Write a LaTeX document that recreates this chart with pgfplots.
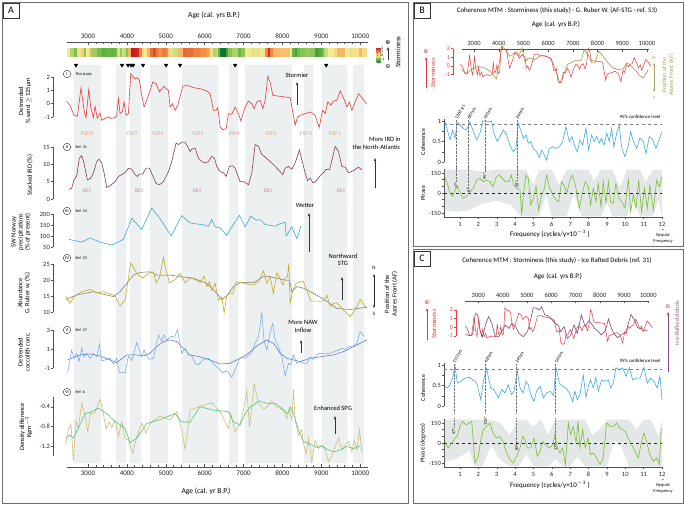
\documentclass[border=0pt]{standalone}
\usepackage{fontspec}
\setmainfont{Carlito}
\newfontfamily\dejavu{DejaVu Sans}
\usepackage{pgfplots}
\usepackage{pgfplotstable}
\pgfplotsset{compat=1.18}
\usetikzlibrary{arrows.meta}

\definecolor{acol}{RGB}{80,80,80}
\definecolor{stormred}{RGB}{232,60,60}
\definecolor{irdcol}{RGB}{140,55,95}
\definecolor{irdC}{RGB}{130,70,130}
\definecolor{preccol}{RGB}{60,170,210}
\definecolor{rubcol}{RGB}{200,170,30}
\definecolor{rubB}{RGB}{170,150,70}
\definecolor{cocl}{RGB}{110,165,235}
\definecolor{cocd}{RGB}{85,105,205}
\definecolor{dent}{RGB}{205,190,120}
\definecolor{deng}{RGB}{80,200,120}
\definecolor{cohcol}{RGB}{60,170,225}
\definecolor{phcol}{RGB}{120,190,50}
\definecolor{bandcol}{RGB}{236,240,240}
\definecolor{phband}{RGB}{228,231,231}
\definecolor{fspcol}{RGB}{240,150,110}
\definecolor{becol}{RGB}{195,145,175}
\definecolor{afcol}{RGB}{175,160,90}
\definecolor{framecol}{RGB}{110,110,110}

\pgfplotstableread{
age v
2451 0.18
2537 -0.13
2640 -0.88
2726 -0.95
2820 1.20
2897 -0.50
2949 -1.05
3018 1.05
3069 -0.25
3138 -1.05
3180 -0.20
3240 -1.10
3309 -0.70
3352 -1.25
3438 -1.10
3524 -1.00
3592 -1.10
3695 -1.05
3738 -0.90
3781 0.38
3824 -0.75
3884 -0.60
3927 0.13
3978 -0.88
4038 -0.75
4098 2.25
4150 2.05
4210 1.85
4270 1.95
4321 1.75
4381 0.62
4441 -0.25
4510 0.25
4596 1.00
4664 1.62
4750 1.50
4836 0.88
4896 1.12
4956 1.30
5007 1.12
5067 1.00
5110 -0.25
5170 0.00
5239 -0.50
5307 -0.12
5436 1.30
5539 1.38
5711 1.20
5882 1.12
6054 0.95
6139 0.75
6225 -0.50
6294 -0.50
6337 -0.30
6397 -1.75
6465 -1.95
6551 -1.88
6611 -0.75
6697 -0.80
6783 -0.25
6869 -0.75
6929 -1.30
7040 -0.25
7126 0.20
7212 0.00
7272 -0.38
7340 0.12
7426 0.25
7495 -0.38
7555 0.25
7623 2.05
7683 1.62
7752 0.62
7941 0.55
8198 0.45
8258 -0.50
8327 -1.62
8387 -1.00
8455 -0.88
8584 -0.75
8713 -0.62
8841 -0.88
8944 -1.80
9030 -0.50
9099 -0.75
9167 0.13
9244 -0.12
9313 0.20
9399 0.25
9485 0.95
9596 0.25
9656 -0.25
9725 0.13
9785 -0.50
9956 0.75
10042 0.45
10171 -0.05
}\storm

\pgfplotstableread{
age v
2511 2.8
2580 3.1
2640 5.5
2709 6.7
2777 11.8
2837 12.5
2897 10.4
2983 5.5
3069 6.0
3138 7.5
3223 10.8
3283 11.5
3352 10.4
3412 7.6
3481 3.3
3566 3.8
3695 5.0
3781 6.5
3952 7.6
4038 8.9
4124 8.6
4210 7.0
4270 6.5
4321 7.2
4407 7.2
4493 8.9
4578 8.9
4664 6.7
4750 4.5
4836 4.1
4939 5.0
5067 7.9
5153 10.8
5265 16.2
5325 15.7
5410 16.4
5496 16.4
5556 15.2
5625 13.7
5668 14.4
5754 14.7
5839 11.8
5925 10.8
6011 10.4
6097 10.8
6182 12.3
6251 11.8
6311 9.4
6397 7.9
6483 7.6
6551 6.5
6637 9.4
6714 9.6
6783 8.9
6843 7.0
6911 5.0
6997 5.0
7083 4.5
7126 4.1
7212 7.5
7297 15.7
7383 15.2
7469 12.8
7555 12.1
7726 10.4
7898 8.4
8009 7.0
8069 8.9
8155 9.4
8241 8.6
8327 10.4
8438 14.2
8498 11.3
8584 7.5
8644 5.3
8713 6.0
8781 4.7
8841 4.9
8970 6.7
9056 7.6
9124 8.6
9210 8.4
9296 12.3
9356 15.2
9442 13.7
9528 9.4
9613 9.2
9699 7.6
9828 8.2
9956 9.2
10042 8.4
}\ird

\pgfplotstableread{
age v
2511 84.5
2837 72.5
3052 90.5
3309 72.5
3609 59
3909 84.5
4124 180.5
4381 129.5
4638 227
4896 167
5136 99.5
5410 192.5
5625 159.5
5968 150.5
6097 144.5
6182 174.5
6268 141.5
6397 137
6568 102.5
6654 129.5
6894 194
7040 141.5
7186 189.5
7340 171.5
7426 174.5
7555 152
7812 144.5
7941 156.5
8069 162.5
8095 99.5
8241 141.5
8370 87.5
8472 144.5
}\prec

\pgfplotstableread{
age v
2426 14.9
2537 12.8
2640 14.9
2837 16.4
3052 17.1
3223 16.1
3395 16.4
3566 15.7
3695 15.1
3824 12.0
3952 13.8
4098 25.4
4253 22.1
4407 20.6
4578 22.3
4681 22.6
4750 19.2
4836 20.6
4939 27.1
5007 23.1
5093 19.2
5239 20.2
5368 22.1
5496 19.2
5625 20.6
5754 20.2
5882 19.2
5985 21.3
6054 18.0
6122 19.5
6182 16.9
6268 19.0
6354 13.8
6440 14.7
6500 9.9
6568 15.1
6654 16.1
6723 15.7
6809 19.5
6954 19.2
7126 18.7
7255 18.5
7383 19.5
7512 22.9
7598 19.0
7683 21.1
7769 15.9
7855 22.3
7941 20.6
8009 18.5
8069 20.6
8129 21.1
8164 25.2
8198 12.8
8267 16.9
8352 19.0
8455 19.5
8541 19.5
8627 16.9
8730 13.5
8841 13.5
9056 13.5
9141 15.4
9227 11.8
9313 12.8
9399 13.0
9485 11.8
9570 10.7
9742 8.7
9870 10.7
10000 14.0
10102 12.3
10171 11.2
}\rub

\pgfplotstableread{
age v
2426 14.0
2709 15.4
3138 16.4
3652 14.9
3824 16.4
3995 19.0
4167 21.6
4338 22.4
4596 22.6
4767 21.6
5110 21.6
5368 21.1
5711 20.6
6054 19.0
6311 15.9
6440 14.0
6568 15.1
6740 18.0
6911 19.2
7255 19.2
7512 21.1
7683 21.1
7855 20.6
8069 20.0
8181 20.0
8241 16.4
8370 18.0
8541 17.5
8798 15.9
9099 13.8
9399 11.2
9742 10.9
10171 11.6
}\rubs

\pgfplotstableread{
age v
2477 -1.45
2580 0.90
2640 0.04
2709 0.57
2769 -0.30
2837 1.09
2897 0.20
2966 0.57
3052 0.04
3138 0.57
3223 0.20
3292 1.54
3352 -0.20
3438 -0.13
3566 0.04
3652 -0.55
3738 0.04
3807 -1.45
3952 -1.45
4038 0.29
4124 -0.20
4253 1.68
4381 0.20
4441 0.90
4553 -0.06
4681 0.04
4810 2.48
4896 1.78
4939 2.48
5025 1.96
5127 2.30
5239 2.37
5299 3.00
5410 0.57
5496 1.09
5582 0.39
5668 0.29
5754 -0.48
5839 -0.65
5968 -0.06
6097 0.04
6225 -0.55
6354 -1.00
6465 -1.45
6568 -1.24
6697 -1.94
6809 -0.90
6911 0.15
7040 0.04
7126 0.39
7212 0.57
7297 1.61
7383 2.30
7469 4.81
7529 1.78
7598 0.90
7683 2.72
7752 3.70
7812 1.96
7898 1.26
7984 0.20
8069 -1.80
8155 -0.48
8215 -0.65
8284 0.39
8370 -0.48
8455 -0.30
8541 -0.48
8627 -0.48
8713 0.20
8798 -0.06
8884 0.39
8970 0.57
9099 0.50
9227 0.57
9399 0.84
9528 1.09
9613 0.98
9699 1.26
9828 1.33
9913 1.61
9999 2.83
10102 2.30
}\coc

\pgfplotstableread{
age v
2477 -0.13
2794 0.39
3052 0.50
3309 0.29
3566 -0.13
3738 -0.41
3995 0.39
4253 0.39
4424 0.29
4596 0.57
4767 1.26
4939 1.78
5110 1.96
5282 1.78
5453 1.09
5625 0.39
5882 0.20
6139 -0.13
6397 -0.55
6654 -0.48
6911 0.04
7126 0.57
7340 1.33
7598 1.96
7769 1.61
7941 0.57
8112 0.04
8284 -0.13
8455 -0.30
8713 0.04
8970 0.20
9313 0.39
9570 0.74
9828 1.26
10171 1.96
}\cocs

\pgfplotstableread{
age v
2426 -1.16
2494 -0.87
2563 -0.75
2623 -1.50
2692 -0.68
2752 -0.84
2837 -0.33
2923 -0.57
2992 -0.91
3069 -0.52
3155 -0.54
3223 -0.43
3309 -0.25
3395 -0.54
3464 -0.86
3549 -0.71
3609 -0.82
3695 -0.67
3781 -1.01
3867 -0.71
3952 -1.04
4038 -1.08
4150 -1.35
4253 -1.01
4381 -0.73
4493 -0.94
4596 -0.74
4853 -0.59
5110 -0.67
5282 -0.50
5410 -0.87
5496 -1.27
5625 -0.47
5882 -0.39
6182 -0.32
6397 -0.50
6611 -0.84
6671 -0.54
6783 -0.91
6911 -0.74
6997 -0.47
7083 -0.07
7152 -0.81
7272 0.06
7383 -0.33
7512 -0.45
7598 -0.41
7726 -0.28
7855 -0.40
8026 -0.47
8112 -0.64
8181 -0.45
8241 -0.67
8284 -0.05
8327 -0.67
8412 -0.98
8498 -0.87
8541 -1.16
8610 -1.35
8670 -1.04
8755 -1.52
8841 -1.08
8927 -1.25
9013 -1.18
9099 -1.28
9184 -1.52
9270 -1.40
9356 -1.21
9442 -1.04
9528 -1.28
9613 -1.18
9699 -1.11
9785 -1.32
9845 -1.09
9913 -1.28
9982 -0.87
10042 -1.32
}\den

\pgfplotstableread{
age v
2426 -1.04
2537 -0.98
2623 -1.04
2794 -0.77
2923 -0.54
3095 -0.50
3266 -0.43
3481 -0.54
3652 -0.67
3824 -0.77
3952 -0.84
4081 -1.13
4253 -1.04
4510 -0.74
4853 -0.66
5239 -0.54
5410 -0.71
5625 -0.71
5882 -0.40
6225 -0.47
6611 -0.50
6740 -0.71
6911 -0.77
7040 -0.54
7169 -0.40
7255 -0.37
7383 -0.28
7598 -0.33
7812 -0.33
7984 -0.43
8129 -0.54
8198 -0.40
8284 -0.54
8412 -0.87
8541 -1.11
8713 -1.16
8884 -1.23
9013 -1.20
9184 -1.28
9313 -1.32
9485 -1.28
9656 -1.21
9828 -1.25
9999 -1.20
}\dens

\pgfplotstableread{
age v
2487 -0.42
2690 -0.88
2892 -0.42
3162 -0.04
3432 -0.23
3702 -0.73
3905 -1.50
4040 0.73
4134 2.35
4310 1.69
4445 1.12
4647 1.50
4809 1.12
4944 2.08
5052 0.54
5255 0.92
5457 0.73
5660 1.12
5862 1.19
6065 0.92
6200 0.35
6335 -0.81
6470 -1.96
6605 -1.19
6780 0.15
6942 0.42
7145 0.65
7347 0.65
7455 1.88
7617 1.31
7752 0.35
7887 0.35
8049 1.69
8224 1.12
8427 0.35
8630 -0.23
8832 -0.42
9035 -0.35
9170 0.35
9305 0.15
9507 -0.42
9710 -1.12
9845 -1.38
9980 -0.81
10047 -0.42
}\rubBt

\pgfplotstableread{
age v
2468 -0.81
2632 -0.96
2768 -0.81
2877 1.62
2973 1.42
3082 -0.50
3177 -1.08
3314 0.46
3423 1.23
3559 0.46
3696 -1.08
3832 -1.08
3968 -0.50
4105 0.27
4269 -0.12
4378 0.46
4541 0.08
4678 -0.69
4855 -1.08
5032 -0.42
5169 1.04
5264 2.27
5401 2.19
5510 2.00
5605 2.38
5742 1.42
5878 1.35
6014 0.96
6151 0.46
6287 0.27
6396 -0.50
6533 0.08
6669 -1.27
6806 -0.88
6942 0.27
7078 -0.69
7242 1.42
7406 0.08
7542 0.73
7651 0.46
7788 -0.12
7924 -0.42
8060 -0.88
8224 -0.42
8360 0.96
8470 -0.04
8606 -0.81
8742 -1.19
8879 -0.88
9083 -0.50
9288 1.50
9424 0.85
9560 -0.04
9697 -0.12
9833 -0.42
9970 -0.31
}\irdCt

\pgfplotstableread{
f c
0.18 0.98
0.31 0.78
0.46 0.54
0.60 0.78
0.73 0.58
0.85 0.97
1.00 0.90
1.18 0.82
1.36 0.78
1.54 0.98
1.73 0.74
1.91 0.54
2.09 0.70
2.23 1.00
2.42 1.00
2.60 0.98
2.72 1.00
2.85 0.70
3.03 0.50
3.18 0.62
3.36 0.78
3.54 0.66
3.72 0.41
3.90 0.25
4.05 0.33
4.18 0.94
4.30 0.78
4.45 0.58
4.59 0.66
4.72 0.46
4.85 0.50
4.99 0.33
5.17 0.25
5.32 0.11
5.45 0.29
5.57 0.19
5.72 0.05
5.86 0.33
6.05 0.37
6.23 0.33
6.41 0.37
6.59 0.50
6.77 0.86
6.95 0.50
7.10 0.62
7.26 0.37
7.39 0.25
7.53 0.54
7.68 0.41
7.86 0.82
8.00 0.29
8.17 0.66
8.30 0.50
8.44 0.62
8.59 0.46
8.71 0.58
8.84 0.41
8.99 0.70
9.13 0.50
9.26 0.82
9.38 0.37
9.53 0.70
9.67 0.90
9.80 0.37
9.98 0.13
10.17 0.41
10.29 0.74
10.44 0.50
10.62 0.33
10.80 0.58
10.98 0.50
11.13 0.21
11.31 0.62
11.49 0.54
11.67 0.33
11.80 0.50
12.00 0.74
}\cohB

\pgfplotstableread{
f p
0.18 122
0.31 72
0.46 -2
0.60 -27
0.73 22
0.85 47
1.00 10
1.15 -40
1.33 -27
1.54 10
1.73 35
1.91 97
2.09 110
2.27 85
2.45 97
2.63 85
2.80 47
2.98 122
3.12 135
3.30 110
3.48 85
3.67 85
3.80 135
3.92 60
4.10 35
4.27 22
4.36 -165
4.45 -15
4.59 135
4.72 110
4.85 -90
4.99 -40
5.14 47
5.28 -127
5.45 -15
5.57 22
5.72 135
5.86 47
6.05 -15
6.23 -52
6.37 -65
6.54 85
6.66 60
6.81 -2
6.99 97
7.14 135
7.32 35
7.50 -115
7.68 10
7.82 85
7.99 47
8.11 -90
8.26 35
8.40 -65
8.53 72
8.68 -102
8.80 85
8.95 -77
9.08 85
9.20 -65
9.35 -77
9.49 72
9.62 -27
9.80 -65
9.98 -115
10.17 110
10.29 -140
10.44 -15
10.58 -115
10.73 97
10.89 -140
11.05 35
11.20 -115
11.34 60
11.53 -127
11.71 97
11.85 47
12.00 122
}\phB

\pgfplotstableread{
f c
0.18 0.48
0.31 0.44
0.46 0.52
0.60 0.68
0.73 1.00
0.85 0.56
1.04 0.60
1.27 0.68
1.51 0.70
1.69 0.64
1.82 0.60
1.94 0.52
2.13 0.15
2.27 0.60
2.45 0.91
2.67 0.44
2.85 0.40
3.09 0.20
3.27 0.40
3.45 0.32
3.63 0.52
3.81 0.28
3.94 0.36
4.12 0.86
4.27 0.44
4.45 0.32
4.59 0.60
4.72 0.52
4.85 0.28
5.03 0.11
5.17 0.36
5.36 0.48
5.54 0.20
5.72 0.32
5.90 0.36
6.09 0.26
6.23 0.93
6.41 0.56
6.59 0.48
6.77 0.44
6.95 0.32
7.14 0.11
7.26 0.36
7.39 0.15
7.53 0.28
7.71 0.76
7.86 0.21
7.99 0.48
8.11 0.64
8.26 0.44
8.40 0.70
8.53 0.36
8.71 0.64
8.89 0.60
9.08 0.64
9.20 0.44
9.35 0.56
9.49 0.93
9.67 0.89
9.86 0.93
10.04 0.72
10.22 0.93
10.40 0.64
10.62 0.68
10.80 0.68
11.02 0.94
11.20 0.56
11.38 0.68
11.56 0.60
11.74 0.44
11.89 0.72
12.00 0.15
}\cohC

\pgfplotstableread{
f p
0.18 12
0.36 -37
0.55 0
0.73 37
0.85 50
1.00 125
1.15 162
1.33 137
1.51 150
1.64 162
1.82 -150
2.00 -100
2.13 25
2.27 100
2.45 125
2.63 150
2.80 75
2.98 37
3.16 50
3.34 12
3.54 -75
3.72 -125
3.90 -150
4.12 -87
4.27 -37
4.41 50
4.54 25
4.67 -37
4.85 -37
5.03 37
5.21 -100
5.36 -62
5.50 12
5.68 -17
5.87 -37
6.05 -12
6.17 62
6.30 -37
6.44 -75
6.59 -37
6.74 -162
6.90 150
7.03 62
7.17 125
7.32 0
7.43 162
7.53 -37
7.68 100
7.82 -37
7.97 37
8.11 -87
8.26 -75
8.44 -112
8.62 -162
8.80 -112
8.98 150
9.17 125
9.35 125
9.53 150
9.71 112
9.86 100
10.00 87
10.16 37
10.35 -12
10.53 -62
10.71 -112
10.89 12
11.02 75
11.16 12
11.34 -87
11.53 -137
11.71 -112
11.85 -162
11.96 112
}\phC

\tikzset{arr/.style={-{Stealth[length=3.5pt,width=2.6pt]}, line width=0.6pt, black!80},
  pklab/.style={rotate=60, anchor=west, font=\fontsize{4.6}{5}\selectfont, inner sep=0.4pt},
  phlab/.style={rotate=90, font=\fontsize{4.3}{5}\selectfont, inner sep=0.3pt}}

\pgfplotsset{
  every axis/.append style={/pgf/number format/assume math mode=true, /pgf/number format/1000 sep={}, scaled ticks=false},
  base/.style={scale only axis, clip=false, anchor=south west,
    axis line style={acol, line width=0.4pt},
    tick style={acol, line width=0.4pt},
    tick align=outside, major tick length=2pt, minor tick length=1.2pt,
    tick label style={font=\fontsize{6.5}{7}\selectfont, text=black!85},
    yticklabel style={inner xsep=1pt}},
  Aplot/.style={base, width=315pt, xmin=2099.3, xmax=10200,
    axis x line=none, axis y line*=left, y axis line style={draw=none}},
  ageax/.style={base, height=10pt, ymin=0, ymax=1, axis y line=none,
    tick align=inside, xtick={3000,4000,...,10000}, scaled x ticks=false,
    xticklabel={\pgfmathprintnumber[fixed,precision=0,1000 sep={}]{\tick}}},
  cohax/.style={base, width=218pt, height=43.05pt, xmin=0.13, xmax=12, ymin=0, ymax=1.05,
    axis x line=none, axis y line*=left,
    ytick={0,0.25,0.5,0.75,1}, yticklabels={0,,0.5,,1}},
  phax/.style={base, width=218pt, height=48pt, xmin=0.13, xmax=12, ymin=-180, ymax=180,
    axis lines*=left, xtick={1,...,12}, ytick={-150,-100,...,150}, yticklabels={-150,,,0,,,150}},
}

\newcommand{\circnum}[2]{\node[circle, draw=black!80, line width=0.4pt, inner sep=0pt, minimum size=7.5pt, font=\fontsize{4.5}{5}\selectfont] at #1 {#2};}

\begin{document}
\begin{tikzpicture}[x=1pt,y=1pt]
\useasboundingbox (0,0) rectangle (685,506);
\fill[white] (0,0) rectangle (685,506);
\draw[framecol, line width=1pt] (2,3) rectangle (408,503);
\draw[framecol, line width=1pt] (413,259) rectangle (683,503);
\draw[framecol, line width=1pt] (413,3) rectangle (683,256);
\draw[black!80, line width=0.6pt] (3,488) rectangle (19,503);
\node[font=\fontsize{10}{10}\selectfont] at (11,495.5) {A};
\draw[black!80, line width=0.6pt] (414,488) rectangle (430,503);
\node[font=\fontsize{10}{10}\selectfont] at (422,495.5) {B};
\draw[black!80, line width=0.6pt] (414,240) rectangle (430,255);
\node[font=\fontsize{10}{10}\selectfont] at (422,247.5) {C};

%%%%%%%%%%%%%%%% PANEL A %%%%%%%%%%%%%%%%
\begin{axis}[scale only axis, anchor=south west, at={(53pt,43pt)}, width=315pt, height=398pt,
  xmin=2099.3, xmax=10200, ymin=0, ymax=1, axis lines=none]
\addplot[const plot, fill=bandcol, draw=none] coordinates {(2640,1)(3330,0)(3720,1)(3980,0)(4080,1)(4360,0)(4600,1)(5060,0)(5420,1)(6350,0)(6630,1)(6860,0)(7040,1)(8250,0)(8560,1)(8790,0)(9020,1)(9660,0)(9820,1)(10100,0)} \closedcycle;
\end{axis}

\begin{axis}[ageax, at={(67pt,454pt)}, width=301pt, xmin=2460, xmax=10200,
  axis x line*=top, minor x tick num=4, major tick length=3pt, minor tick length=1.8pt,
  xticklabel style={font=\fontsize{7}{8}\selectfont}]
\addplot[draw=none] coordinates {(3000,0)(10000,1)};
\end{axis}
\node[font=\fontsize{7.5}{8}\selectfont] at (214,491) {Age (cal. yrs B.P.)};

\begin{axis}[scale only axis, anchor=south west, at={(67pt,449pt)}, width=301pt, height=9pt,
  xmin=2460, xmax=10200, ymin=0, ymax=1, axis lines=none, clip=false,
  colormap={storm}{rgb255=(0,110,50) rgb255=(110,185,70) rgb255=(245,235,150) rgb255=(245,150,70) rgb255=(200,20,30)},
  point meta min=-2, point meta max=2,
  colorbar, colorbar style={scale only axis, width=4pt, height=15pt,
    at={([xshift=5pt,yshift=9pt]parent axis.north east)}, anchor=north west,
    ytick={-1,0,1,2}, major tick length=1pt, axis line style={draw=none},
    yticklabel style={font=\fontsize{3.8}{4}\selectfont, inner xsep=0.5pt}}]
\addplot[mesh, line width=9pt, point meta=\thisrow{v}] table[x=age, y expr=0.5] {\storm};
\addplot[only marks, mark=triangle*, mark size=2.1pt, mark options={rotate=180, fill=black, draw=black}]
  coordinates {(2691,-0.9)(3875,-0.9)(4030,-0.9)(4107,-0.9)(4160,-0.9)(4415,-0.9)(5007,-0.9)(5367,-0.9)(6783,-0.9)(9125,-0.9)};
\end{axis}
\node[font=\dejavu\fontsize{6}{6}\selectfont] at (388,463) {⊕};
\draw[arr] (388,446) -- (388,459);
\node[font=\dejavu\fontsize{6}{6}\selectfont] at (388,439) {⊖};
\node[font=\fontsize{7}{8}\selectfont, rotate=90] at (398,454) {Storminess};

% Panel I
\begin{axis}[Aplot, at={(53pt,373pt)}, height=62.7pt, ymin=-2.2, ymax=2.5, ytick={-1,0,1,2}]
\addplot[stormred, line width=0.6pt] table[x=age,y=v] {\storm};
\draw[acol, line width=0.4pt] (axis cs:2099.3,-1) -- (axis cs:2099.3,2);
\end{axis}
\circnum{(67,432)}{I}
\node[anchor=west, font=\fontsize{4}{4}\selectfont] at (72,432) {This study};
\node[align=center, rotate=90, font=\fontsize{6.5}{7}\selectfont] at (25,405) {Detrended\\\% sand $\geq$ 125µm};
\node[font=\fontsize{6.5}{7}\selectfont] at (297,431) {Stormier};
\draw[arr] (297,401) -- (297,424);
\foreach \xx/\tt in {87/FSP 8,132/FSP7,158/FSP6,198/FSP5,234/FSP4,271/FSP3,306/FSP 2,335/FSP 1}
  \node[text=fspcol, font=\fontsize{5.5}{6}\selectfont] at (\xx,372) {\tt};

% Panel II
\begin{axis}[Aplot, at={(53pt,307pt)}, height=58.9pt, ymin=0, ymax=17, ytick={0,5,10,15}]
\addplot[irdcol, line width=0.6pt] table[x=age,y=v] {\ird};
\draw[acol, line width=0.4pt] (axis cs:2099.3,0) -- (axis cs:2099.3,15);
\end{axis}
\circnum{(67,359)}{II}
\node[anchor=west, font=\fontsize{4}{4}\selectfont] at (72,359) {Ref. 31};
\node[rotate=90, font=\fontsize{6.5}{7}\selectfont] at (30,331) {Stacked IRD (\%)};
\foreach \xx/\tt in {87/BE2,139/BE3,197/BE4,268/BE5,341/BE6}
  \node[text=becol, font=\fontsize{5.5}{6}\selectfont] at (\xx,315) {\tt};
\node[align=right, anchor=east, font=\fontsize{6.5}{7.5}\selectfont] at (404,362.5) {More IRD in\\the North-Atlantic};
\draw[arr] (375,318) -- (375,348);

% Panel III
\begin{axis}[Aplot, at={(53pt,256.8pt)}, height=44pt, ymin=40, ymax=240, ytick={50,100,150,200}]
\addplot[preccol, line width=0.6pt] table[x=age,y=v] {\prec};
\draw[acol, line width=0.4pt] (axis cs:2099.3,50) -- (axis cs:2099.3,200);
\end{axis}
\circnum{(67,295)}{III}
\node[anchor=west, font=\fontsize{4}{4}\selectfont] at (72,295) {Ref. 54};
\node[align=center, rotate=90, font=\fontsize{6.5}{7}\selectfont] at (21,274) {SW Norway\\precipitations\\(\% of present)};
\node[font=\fontsize{6.5}{7}\selectfont] at (305,301) {Wetter};
\draw[arr] (309,254) -- (309,293);

% Panel IV
\begin{axis}[Aplot, at={(53pt,187.2pt)}, height=64.4pt, ymin=8, ymax=28, ytick={10,15,20,25}]
\addplot[black!55, line width=0.5pt] table[x=age,y=v] {\rubs};
\addplot[rubcol, line width=0.6pt] table[x=age,y=v] {\rub};
\draw[acol, line width=0.4pt] (axis cs:2099.3,10) -- (axis cs:2099.3,25);
\end{axis}
\circnum{(67,248)}{IV}
\node[anchor=west, font=\fontsize{4}{4}\selectfont] at (72,248) {Ref. 53};
\node[align=center, rotate=90, font=\fontsize{6.5}{7}\selectfont] at (24,213) {Abundance\\G. Ruber w. (\%)};
\node[align=center, font=\fontsize{6.5}{7.5}\selectfont] at (343,246) {Northward\\STG};
\draw[arr] (342,206) -- (342,229);
\node[font=\fontsize{5}{5}\selectfont] at (374,238) {N};
\draw[{Stealth[length=3pt,width=2.4pt]}-{Stealth[length=3pt,width=2.4pt]}, line width=0.6pt, black!85] (374,232) -- (374,198);
\node[font=\fontsize{5}{5}\selectfont] at (374,192) {S};
\node[align=center, rotate=90, font=\fontsize{6.5}{7.5}\selectfont] at (391,212) {Position of the\\Azores Front (AF)};

% Panel V
\begin{axis}[Aplot, at={(53pt,126.2pt)}, height=69pt, ymin=-2.2, ymax=5, ytick={-1,1,3}]
\addplot[cocd, line width=0.5pt] table[x=age,y=v] {\cocs};
\addplot[cocl, line width=0.5pt] table[x=age,y=v] {\coc};
\draw[acol, line width=0.4pt] (axis cs:2099.3,-1) -- (axis cs:2099.3,3);
\end{axis}
\circnum{(67,176)}{V}
\node[anchor=west, font=\fontsize{4}{4}\selectfont] at (72,176) {Ref. 57};
\node[align=center, rotate=90, font=\fontsize{6.5}{7}\selectfont] at (24,154) {Detrended\\coccolith conc.};
\node[align=center, font=\fontsize{6.5}{7.5}\selectfont] at (303,179.5) {More NAW\\Inflow};
\draw[arr] (301,153) -- (301,166);

% Panel VI
\begin{axis}[Aplot, at={(53pt,42.8pt)}, height=81pt, ymin=-1.55, ymax=0.1, ytick={-1.2,-0.8,-0.4},
  yticklabel style={/pgf/number format/fixed, /pgf/number format/precision=1}]
\addplot[dent, line width=0.6pt] table[x=age,y=v] {\den};
\addplot[deng, line width=0.6pt] table[x=age,y=v] {\dens};
\draw[acol, line width=0.4pt] (axis cs:2099.3,-1.4) -- (axis cs:2099.3,-0.2);
\end{axis}
\circnum{(67,114)}{VI}
\node[anchor=west, font=\fontsize{4}{4}\selectfont] at (72,114) {Ref. 6};
\node[align=center, rotate=90, font=\fontsize{6.5}{7}\selectfont] at (26,79) {Density difference\\Kgm$^{-3}$};
\node[font=\fontsize{6.5}{7}\selectfont] at (333,98) {Enhanced SPG};
\draw[arr] (335,72) -- (335,90);

\begin{axis}[ageax, at={(67pt,39pt)}, width=301pt, xmin=2460, xmax=10200,
  axis x line*=bottom, minor x tick num=4, major tick length=3pt, minor tick length=1.8pt,
  xticklabel style={font=\fontsize{7}{8}\selectfont}]
\addplot[draw=none] coordinates {(3000,0)(10000,1)};
\end{axis}
\node[font=\fontsize{7.5}{8}\selectfont] at (206,15) {Age (cal. yr B.P.)};

%%%%%%%%%%%%%%%% PANEL B %%%%%%%%%%%%%%%%
\node[font=\fontsize{6.8}{7}\selectfont] at (557,495) {Coherence MTM : Storminess (this study) - G. Ruber W. (AF-STG - ref. 53)};
\node[font=\fontsize{7}{8}\selectfont] at (556,481) {Age (cal. yrs B.P.)};
\begin{axis}[ageax, at={(462pt,446.7pt)}, width=187pt, xmin=2514, xmax=10082, axis x line*=top, major tick length=2.5pt]
\addplot[draw=none] coordinates {(3000,0)(10000,1)};
\end{axis}
\begin{axis}[base, at={(453pt,418.4pt)}, width=196pt, height=44.2pt, xmin=2150, xmax=10082,
  ymin=-2.5, ymax=2.6, axis x line=none, axis y line*=left, y axis line style={draw=none},
  ytick={-1,0,1,2}, tick style={stormred}, yticklabel style={text=stormred, font=\fontsize{6}{6}\selectfont}]
\addplot[rubB, line width=0.6pt] table[x=age,y=v] {\rubBt};
\addplot[stormred, line width=0.5pt] table[x=age,y=v] {\storm};
\draw[stormred, line width=0.4pt] (axis cs:2150,-1) -- (axis cs:2150,2);
\end{axis}
\node[text=stormred, font=\dejavu\fontsize{6}{6}\selectfont] at (426,454) {⊕};
\draw[-{Stealth[length=3.5pt,width=2.6pt]}, line width=0.7pt, stormred] (426,418) -- (426,449);
\node[text=stormred, rotate=90, font=\fontsize{6.5}{7}\selectfont] at (433,433) {Storminess};
\node[text=afcol, font=\fontsize{5}{5}\selectfont] at (654,448) {N};
\draw[{Stealth[length=3pt,width=2.4pt]}-{Stealth[length=3pt,width=2.4pt]}, line width=0.6pt, afcol] (654,443) -- (654,414);
\node[text=afcol, font=\fontsize{5}{5}\selectfont] at (654,408) {S};
\node[text=afcol, align=center, rotate=90, font=\fontsize{6}{6.8}\selectfont] at (668,431) {Position of the\\Azores Front (AF)};

\begin{axis}[cohax, at={(444pt,344pt)}]
\addplot[black!50, dashed, line width=0.5pt] coordinates {(0.13,0.92)(12,0.92)};
\addplot[cohcol, line width=0.6pt] table[x=f,y=c] {\cohB};
\addplot[black!55, densely dotted, line width=0.4pt] coordinates {(0.79,1.03)(0.79,-0.17)};
\addplot[black!55, densely dotted, line width=0.4pt] coordinates {(1.46,1.03)(1.46,-0.17)};
\addplot[black!55, densely dotted, line width=0.4pt] coordinates {(2.35,1.03)(2.35,-0.17)};
\addplot[black!55, densely dotted, line width=0.4pt] coordinates {(4.10,1.03)(4.10,-0.17)};
\node[pklab] at (axis cs:0.79,1.03) {1260 yrs};
\node[pklab] at (axis cs:1.46,1.03) {687yrs};
\node[pklab] at (axis cs:2.35,1.03) {425yrs};
\node[pklab] at (axis cs:4.10,1.03) {244yrs};
\end{axis}
\node[font=\fontsize{4.8}{5}\selectfont] at (640,389) {95\% confidence level};
\node[rotate=90, font=\fontsize{6}{6}\selectfont] at (423,364) {Coherence};

\begin{axis}[phax, at={(444pt,289pt)}]
\addplot[fill=phband, draw=none] coordinates {(0.18,175)(0.80,175)(1.50,175)(2.20,160)(3.00,175)(3.80,175)(4.30,175)(4.60,175)(5.00,60)(5.30,170)(5.70,175)(6.00,175)(6.40,60)(6.80,175)(7.20,175)(7.60,175)(8.00,175)(8.30,90)(8.70,175)(9.00,175)(9.30,175)(9.70,40)(10.10,175)(10.40,175)(10.80,175)(11.10,80)(11.50,175)(11.80,175)(12.00,175)
(12.00,-175)(11.80,-50)(11.50,-175)(11.10,-175)(10.80,-175)(10.40,-40)(10.10,-175)(9.70,-175)(9.30,-175)(9.00,-60)(8.70,-175)(8.30,-175)(8.00,-175)(7.60,-175)(7.20,0)(6.80,-175)(6.40,-175)(6.00,-175)(5.70,-10)(5.30,-175)(5.00,-175)(4.60,-175)(4.30,-175)(3.80,-90)(3.00,-60)(2.20,-80)(1.50,-130)(0.80,-140)(0.18,-130)} -- cycle;
\addplot[black!85, dashed, line width=0.5pt] coordinates {(0.13,0)(12,0)};
\addplot[phcol, line width=0.6pt] table[x=f,y=p] {\phB};
\addplot[black!55, densely dotted, line width=0.4pt] coordinates {(0.79,185)(0.79,82)};
\addplot[black!55, densely dotted, line width=0.4pt] coordinates {(1.46,185)(1.46,37)};
\addplot[black!55, densely dotted, line width=0.4pt] coordinates {(2.35,185)(2.35,157)};
\addplot[black!55, densely dotted, line width=0.4pt] coordinates {(4.10,185)(4.10,97)};
\node[phlab] at (axis cs:0.79,55) {17°};
\node[phlab] at (axis cs:1.46,20) {6°};
\node[phlab] at (axis cs:2.35,125) {95°};
\node[phlab] at (axis cs:4.10,65) {28°};
\end{axis}
\node[rotate=90, font=\fontsize{6}{6}\selectfont] at (423,313) {Phase};
\node[font=\fontsize{7}{8}\selectfont] at (550,272) {Frequency (cycles/y×10$^{-3}$ )};
\node[align=center, font=\fontsize{4.5}{5.5}\selectfont] at (663,270) {=\\Nyquist\\Frequency};

%%%%%%%%%%%%%%%% PANEL C %%%%%%%%%%%%%%%%
\node[font=\fontsize{6.8}{7}\selectfont] at (557,245) {Coherence MTM : Storminess (this study) - Ice Rafted Debris (ref. 31)};
\node[font=\fontsize{7}{8}\selectfont] at (558,229) {Age (cal. yrs B.P.)};
\begin{axis}[ageax, at={(465pt,195pt)}, width=183.3pt, xmin=2452, xmax=10000, axis x line*=top, major tick length=2.5pt]
\addplot[draw=none] coordinates {(3000,0)(10000,1)};
\end{axis}
\begin{axis}[base, at={(456pt,158.7pt)}, width=192.3pt, height=42.5pt, xmin=2082, xmax=10000,
  ymin=-2.3, ymax=2.6, axis x line=none, axis y line*=left, y axis line style={draw=none},
  ytick={-1,0,1,2}, tick style={stormred}, yticklabel style={text=stormred, font=\fontsize{6}{6}\selectfont}]
\addplot[irdC, line width=0.6pt] table[x=age,y=v] {\irdCt};
\addplot[stormred, line width=0.5pt] table[x=age,y=v] {\storm};
\draw[stormred, line width=0.4pt] (axis cs:2082,-1) -- (axis cs:2082,2);
\end{axis}
\node[text=stormred, font=\dejavu\fontsize{6}{6}\selectfont] at (427,203) {⊕};
\draw[-{Stealth[length=3.5pt,width=2.6pt]}, line width=0.7pt, stormred] (427,166) -- (427,198);
\node[text=stormred, rotate=90, font=\fontsize{6.5}{7}\selectfont] at (434,182) {Storminess};
\node[text=irdC, font=\dejavu\fontsize{6}{6}\selectfont] at (668,199) {⊖};
\draw[-{Stealth[length=3.5pt,width=2.6pt]}, line width=0.7pt, irdC] (668,134) -- (668,194);
\node[text=irdC!80, rotate=90, font=\fontsize{6.5}{7}\selectfont] at (677,183) {Ice-Rafted debris};

\begin{axis}[cohax, at={(444pt,100pt)}]
\addplot[black!50, dashed, line width=0.5pt] coordinates {(0.13,0.89)(12,0.89)};
\addplot[cohcol, line width=0.6pt] table[x=f,y=c] {\cohC};
\addplot[black!55, densely dotted, line width=0.4pt] coordinates {(0.66,1.03)(0.66,-0.17)};
\addplot[black!55, densely dotted, line width=0.4pt] coordinates {(2.38,1.03)(2.38,-0.17)};
\addplot[black!55, densely dotted, line width=0.4pt] coordinates {(4.08,1.03)(4.08,-0.17)};
\addplot[black!55, densely dotted, line width=0.4pt] coordinates {(6.21,1.03)(6.21,-0.17)};
\node[pklab] at (axis cs:0.66,1.03) {1511yrs};
\node[pklab] at (axis cs:2.38,1.03) {420yrs};
\node[pklab] at (axis cs:4.08,1.03) {245yrs};
\node[pklab] at (axis cs:6.21,1.03) {161yrs};
\end{axis}
\node[font=\fontsize{4.8}{5}\selectfont] at (640,145) {95\% confidence level};
\node[rotate=90, font=\fontsize{6}{6}\selectfont] at (423,118) {Coherence};

\begin{axis}[phax, at={(444pt,39pt)}]
\addplot[fill=phband, draw=none] coordinates {(0.18,175)(0.80,175)(1.50,175)(1.80,175)(2.20,175)(2.70,175)(3.20,150)(3.70,60)(4.20,175)(4.60,175)(5.00,120)(5.40,175)(5.80,60)(6.20,175)(6.60,175)(7.00,175)(7.40,175)(7.80,175)(8.20,60)(8.60,100)(9.00,175)(9.40,175)(9.80,175)(10.20,175)(10.60,100)(11.00,175)(11.40,175)(11.80,50)(12.00,175)
(12.00,-175)(11.80,-175)(11.40,-175)(11.00,-175)(10.60,-175)(10.20,-175)(9.80,-30)(9.40,20)(9.00,-175)(8.60,-175)(8.20,-175)(7.80,-175)(7.40,-100)(7.00,-175)(6.60,-175)(6.20,-120)(5.80,-175)(5.40,-175)(5.00,-175)(4.60,-80)(4.20,-175)(3.70,-175)(3.20,-130)(2.70,-20)(2.20,-175)(1.80,-175)(1.50,-60)(0.80,-120)(0.18,-140)} -- cycle;
\addplot[black!85, dashed, line width=0.5pt] coordinates {(0.13,0)(12,0)};
\addplot[phcol, line width=0.6pt] table[x=f,y=p] {\phC};
\addplot[black!55, densely dotted, line width=0.4pt] coordinates {(0.66,185)(0.66,112)};
\addplot[black!55, densely dotted, line width=0.4pt] coordinates {(2.38,185)(2.38,190)};
\addplot[black!55, densely dotted, line width=0.4pt] coordinates {(4.08,185)(4.08,-7)};
\addplot[black!55, densely dotted, line width=0.4pt] coordinates {(6.21,185)(6.21,-7)};
\node[phlab] at (axis cs:0.66,85) {47°};
\node[phlab] at (axis cs:2.38,162) {112°};
\node[phlab] at (axis cs:4.08,-35) {85°};
\node[phlab] at (axis cs:6.21,-35) {17°};
\end{axis}
\node[rotate=90, font=\fontsize{6}{6}\selectfont] at (423,63) {Phase (degrees)};
\node[font=\fontsize{7}{8}\selectfont] at (550,21) {Frequency (cycles/y×10$^{-3}$ )};
\node[align=center, font=\fontsize{4.5}{5.5}\selectfont] at (663,20) {=\\Nyquist\\Frequency};
\end{tikzpicture}
\end{document}
